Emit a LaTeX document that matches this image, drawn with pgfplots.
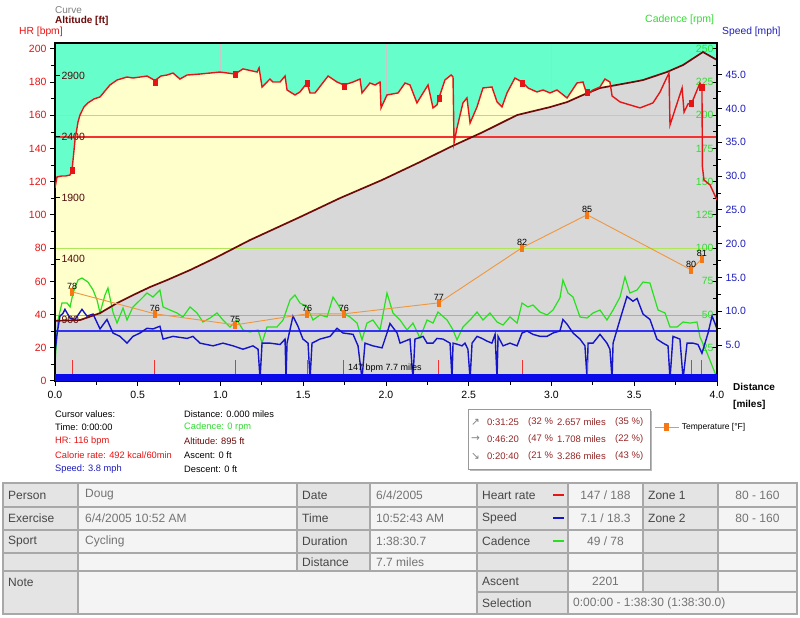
\documentclass[border=0pt]{standalone}
\usepackage{pgfplots}
\pgfplotsset{compat=1.18}
\usepackage{pgfplotstable}
\usepackage{fontspec}
\setmainfont{Liberation Sans}
\newfontfamily\dejavu{DejaVu Sans}
\newcommand{\fs}[1]{\fontsize{#1}{#1}\selectfont}

\definecolor{turq}{RGB}{102,255,204}
\definecolor{ylw}{RGB}{255,255,204}
\definecolor{grayfill}{RGB}{216,216,216}
\definecolor{gridc}{RGB}{200,200,200}
\definecolor{hrred}{RGB}{230,20,20}
\definecolor{avgred}{RGB}{245,50,50}
\definecolor{lapred}{RGB}{240,50,50}
\definecolor{altred}{RGB}{110,10,10}
\definecolor{altlab}{RGB}{80,10,10}
\definecolor{cadgreen}{RGB}{40,225,30}
\definecolor{cadtxt}{RGB}{50,220,50}
\definecolor{cadavg}{RGB}{100,225,80}
\definecolor{zonec}{RGB}{175,230,90}
\definecolor{spdblue}{RGB}{20,20,200}
\definecolor{avgblue}{RGB}{50,50,245}
\definecolor{barblue}{RGB}{10,10,235}
\definecolor{spdtxt}{RGB}{30,30,190}
\definecolor{tempor}{RGB}{240,150,60}
\definecolor{tempmk}{RGB}{245,120,20}
\definecolor{boxtxt}{RGB}{150,40,40}
\definecolor{cellL}{RGB}{228,228,228}
\definecolor{cellV}{RGB}{244,244,244}
\definecolor{cellB}{RGB}{168,168,168}
\definecolor{txtL}{RGB}{70,70,70}
\definecolor{txtV}{RGB}{115,115,115}

\pgfplotsset{
  /pgf/number format/assume math mode=true,
  lay/.style={scale only axis, width=662pt, height=338pt, at={(55pt,237pt)},
    anchor=south west, xmin=0, xmax=4, xtick=\empty, ytick=\empty,
    tick label style={font=\fs{10.5}},
    major tick style={black, line width=1pt}, minor tick style={black, line width=0.8pt},
    major tick length=5pt, minor tick length=4pt},
  hid/.style={axis line style={draw=none}},
  hrs/.style={ymin=0, ymax=203.6},
  alts/.style={ymin=403, ymax=3166},
  cads/.style={ymin=0, ymax=254.4},
  spds/.style={ymin=-0.3, ymax=49.7},
  tmps/.style={ymin=69.9, ymax=100.6},
}

\pgfplotstableread{
d hr
0 116.3
0.012 122.9
0.042 123.5
0.066 123.5
0.091 124.1
0.103 127.1
0.121 145.2
0.139 156.0
0.151 160.2
0.175 165.1
0.199 167.5
0.236 169.9
0.272 171.1
0.302 174.7
0.332 178.3
0.375 181.3
0.435 183.1
0.471 182.5
0.514 183.1
0.556 183.7
0.604 181.0
0.640 183.7
0.677 184.3
0.713 185.5
0.755 181.9
0.798 184.3
0.876 184.9
0.937 185.5
0.997 186.1
1.088 184.9
1.136 188.0
1.221 186.1
1.233 188.6
1.251 177.1
1.299 181.9
1.317 180.1
1.360 180.1
1.390 183.7
1.402 175.3
1.450 172.3
1.480 174.1
1.523 179.5
1.541 173.5
1.571 173.5
1.650 183.7
1.704 180.1
1.746 178.3
1.801 180.1
1.843 181.9
1.855 173.5
1.903 179.5
1.934 178.3
1.964 180.1
1.970 164.5
2.006 172.3
2.073 173.5
2.115 179.5
2.145 178.3
2.187 167.5
2.224 173.5
2.254 178.3
2.284 164.5
2.308 166.3
2.320 170.5
2.356 181.3
2.393 184.3
2.405 183.1
2.411 143.4
2.429 152.4
2.465 167.5
2.489 170.5
2.508 155.4
2.550 165.1
2.586 176.5
2.640 177.1
2.671 168.1
2.701 165.1
2.731 173.5
2.779 182.5
2.822 180.1
2.858 176.5
2.912 174.1
2.949 175.3
2.991 173.5
3.033 175.3
3.094 170.5
3.154 179.5
3.190 180.1
3.215 172.3
3.251 175.3
3.293 177.1
3.323 181.9
3.353 180.1
3.366 171.7
3.414 168.1
3.474 166.3
3.535 164.5
3.613 167.5
3.656 174.1
3.698 183.1
3.710 185.5
3.716 154.2
3.789 176.5
3.801 162.0
3.825 166.9
3.843 167.5
3.855 169.3
3.897 179.5
3.909 177.1
3.912 128.9
3.921 121.1
3.958 118.1
4.0 109.0
}\hrdata

\pgfplotstableread{
d alt
0 895
0.151 901
0.272 958
0.375 1040
0.471 1105
0.574 1171
0.677 1228
0.816 1310
0.967 1408
1.178 1555
1.480 1743
1.722 1898
1.976 2046
2.205 2193
2.387 2315
2.586 2438
2.792 2577
2.991 2642
3.094 2683
3.190 2741
3.293 2798
3.492 2847
3.553 2863
3.698 2929
3.795 2986
3.915 3092
4.0 3027
}\altdata

\pgfplotstableread{
d cad
0 13.5
0.018 45.9
0.042 58.7
0.073 58.7
0.091 55.7
0.109 66.2
0.139 76.0
0.163 77.5
0.199 74.5
0.230 68.5
0.254 60.9
0.272 51.2
0.302 64.7
0.320 70.0
0.350 51.9
0.375 43.6
0.411 54.9
0.435 45.9
0.471 55.7
0.514 60.9
0.556 66.2
0.592 63.2
0.634 68.5
0.653 55.7
0.695 53.4
0.737 51.2
0.773 48.2
0.816 55.7
0.858 51.2
0.894 44.4
0.937 47.4
0.979 51.2
1.015 45.9
1.057 40.6
1.100 45.9
1.136 38.4
1.178 36.9
1.227 38.4
1.251 28.6
1.281 40.6
1.341 40.6
1.378 45.9
1.420 60.9
1.450 64.7
1.480 58.7
1.523 55.7
1.559 45.9
1.601 49.7
1.644 48.2
1.680 63.2
1.704 58.7
1.740 51.2
1.782 48.2
1.825 43.6
1.855 30.9
1.885 43.6
1.921 45.9
1.964 38.4
2.006 66.2
2.042 51.2
2.085 45.9
2.127 38.4
2.163 43.6
2.205 32.4
2.248 45.9
2.284 43.6
2.314 51.9
2.369 45.9
2.405 38.4
2.429 30.9
2.465 40.6
2.508 45.9
2.550 51.9
2.586 45.9
2.628 51.2
2.671 44.4
2.707 42.1
2.749 48.2
2.792 43.6
2.822 58.7
2.858 55.7
2.888 57.2
2.931 51.9
2.973 49.7
3.009 53.4
3.051 62.5
3.069 76.0
3.100 66.2
3.130 63.2
3.172 48.2
3.215 47.4
3.251 51.2
3.293 53.4
3.335 45.9
3.372 53.4
3.414 63.2
3.444 78.3
3.474 66.2
3.517 68.5
3.553 74.5
3.595 73.7
3.613 66.2
3.644 53.4
3.686 51.2
3.716 40.6
3.758 40.6
3.795 44.4
3.837 43.6
3.879 44.4
3.897 33.1
3.940 21.1
3.988 6.0
4.0 3.8
}\caddata

\pgfplotstableread{
d spd
0 3.8
0.012 6.6
0.030 9.3
0.048 9.7
0.060 10.3
0.091 9.0
0.121 8.8
0.163 10.3
0.193 9.3
0.230 9.6
0.272 7.4
0.314 8.8
0.350 6.8
0.393 6.3
0.435 5.3
0.471 6.3
0.514 6.8
0.556 7.5
0.592 7.4
0.634 7.8
0.653 5.9
0.713 6.3
0.798 6.0
0.834 6.3
0.876 5.3
0.955 4.9
1.015 5.3
1.076 4.9
1.136 4.4
1.196 4.9
1.227 4.4
1.239 0
1.251 5.3
1.299 5.3
1.360 5.1
1.390 5.9
1.396 0
1.402 5.3
1.438 9.3
1.468 7.8
1.498 5.9
1.529 5.3
1.541 0
1.553 5.3
1.601 5.9
1.662 6.3
1.704 7.5
1.740 6.8
1.801 6.6
1.831 4.9
1.855 0
1.873 5.3
1.921 4.9
1.976 4.6
2.006 6.8
2.024 8.2
2.067 6.8
2.085 5.3
2.145 5.9
2.163 0
2.175 5.9
2.224 6.3
2.248 5.3
2.284 5.3
2.308 6.0
2.344 5.9
2.387 5.3
2.399 0
2.405 5.3
2.435 5.1
2.459 4.9
2.477 5.3
2.495 4.4
2.508 0
2.520 5.3
2.550 6.3
2.580 6.0
2.610 5.6
2.640 5.3
2.659 6.6
2.671 0
2.677 6.3
2.707 4.9
2.749 5.3
2.792 4.9
2.822 6.8
2.852 7.1
2.888 6.6
2.931 6.3
2.973 6.3
3.009 6.8
3.051 7.1
3.069 8.8
3.094 8.1
3.130 6.8
3.172 5.9
3.202 4.9
3.215 0
3.221 5.3
3.251 5.3
3.293 6.6
3.335 5.3
3.353 4.4
3.366 0
3.372 5.3
3.414 8.8
3.456 12.2
3.492 11.5
3.517 11.9
3.553 9.6
3.595 8.8
3.637 5.9
3.674 5.3
3.704 4.9
3.716 0
3.734 6.3
3.776 5.9
3.795 0
3.819 5.3
3.855 5.3
3.885 5.1
3.909 3.8
3.946 6.8
3.970 9.3
3.988 8.2
4.0 7.4
}\spddata

\pgfplotstableread{
d temp
0.103 78
0.604 76
1.088 75
1.523 76
1.746 76
2.320 77
2.822 82
3.215 85
3.843 80
3.909 81
}\tmpdata

\pgfplotstableread{
d hr tick
0.103 127.1 12.7
0.604 180.1 12.7
1.088 184.9 12.7
1.523 179.5 12.7
1.746 177.7 12.7
2.320 170.5 12.7
2.822 179.5 12.7
3.215 174.0 12.7
3.843 167.5 12.7
3.909 177.1 12.7
}\lapdata

\begin{document}
\begin{tikzpicture}[x=1pt,y=1pt]
\path[use as bounding box, fill=white] (0,0) rectangle (800,618);

% --- background, grid, HR fill
\begin{axis}[lay, hid, hrs, axis background/.style={fill=turq}]
\addplot[draw=gridc, line width=0.8pt] coordinates {(1,0) (1,203.6)};
\addplot[draw=gridc, line width=0.8pt] coordinates {(2,0) (2,203.6)};
\addplot[draw=gridc, line width=0.8pt] coordinates {(3,0) (3,203.6)};
\addplot[draw=none, fill=ylw] table[x=d,y=hr] {\hrdata} \closedcycle;
\end{axis}

% --- altitude fill
\begin{axis}[lay, hid, alts]
\addplot[draw=none, fill=grayfill] table[x=d,y=alt] {\altdata} \closedcycle;
\end{axis}

% --- HR reference lines
\begin{axis}[lay, hid, hrs]
\addplot[color=zonec, line width=1.1pt] coordinates {(0,160) (4,160)};
\addplot[color=zonec, line width=1.1pt] coordinates {(0,80) (4,80)};
\addplot[color=avgred, line width=1.2pt] coordinates {(0,147) (4,147)};
\end{axis}

% --- cadence
\begin{axis}[lay, hid, cads, ytick={25,50,...,250}, ytick pos=right, tick align=inside,
  minor y tick num=1, yticklabel style={anchor=east, text=cadtxt}]
\addplot[color=cadavg, line width=1.1pt] coordinates {(0,49) (4,49)};
\addplot[color=cadgreen, line width=1.2pt] table[x=d,y=cad] {\caddata};
\end{axis}

% --- speed
\begin{axis}[lay, hid, spds, ytick={5,10,...,45}, ytick pos=right, tick align=outside,
  minor y tick num=1,
  yticklabel style={text=spdtxt, /pgf/number format/.cd, fixed, fixed zerofill, precision=1}]
\addplot[color=avgblue, line width=1.2pt] coordinates {(0,7.1) (4,7.1)};
\addplot[color=spdblue, line width=1.4pt] table[x=d,y=spd] {\spddata};
\end{axis}

% --- altitude line
\begin{axis}[lay, hid, alts, ytick={900,1400,1900,2400,2900}, ytick pos=left, tick align=inside,
  yticklabel style={anchor=west, text=altlab, xshift=3pt, /pgf/number format/1000 sep={}}]
\addplot[color=altred, line width=1.7pt] table[x=d,y=alt] {\altdata};
\end{axis}

% --- temperature
\begin{axis}[lay, hid, tmps,
  legend style={at={(axis description cs:0.906,-0.136)}, anchor=west, draw=none, fill=none,
    font=\fs{8.5}, inner sep=0pt},
  legend image code/.code={\draw[mark repeat=2,mark phase=2,#1] plot coordinates {(0pt,0pt) (11pt,0pt) (24pt,0pt)};}]
\addplot[color=tempor, line width=0.9pt, mark=square*, mark size=3pt,
  mark options={draw=tempmk, fill=tempmk, xscale=0.6, yscale=1.15},
  point meta=y, nodes near coords,
  every node near coord/.append style={font=\fs{9}, text=black, inner sep=1.5pt}]
  table[x=d,y=temp] {\tmpdata};
\legend{Temperature [°F]}
\end{axis}

% --- HR line, frame, ticks
\begin{axis}[lay, hrs, axis line style={draw=black, line width=1.5pt},
  xtick={0,0.5,...,4}, xtick pos=bottom, minor x tick num=1,
  ytick={0,20,...,200}, ytick pos=left, minor y tick num=1, tick align=outside,
  yticklabel style={text=hrred},
  xticklabel style={yshift=-2pt, /pgf/number format/.cd, fixed, fixed zerofill, precision=1}]
\addplot[ycomb, color=lapred, line width=1pt] table[x=d,y=tick] {\lapdata};
\addplot[draw=none, fill=barblue] coordinates {(0,0) (4,0) (4,4.2) (0,4.2)} \closedcycle;
\addplot[color=hrred, line width=1.4pt] table[x=d,y=hr] {\hrdata};
\addplot[only marks, mark=square*, mark size=3pt, mark options={draw=hrred, fill=hrred, xscale=0.75}]
  table[x=d,y=hr] {\lapdata};
\node[anchor=west, inner sep=0pt, font=\fs{9}] at (axis cs:1.77,7.8) {147 bpm 7.7 miles};
\end{axis}

% --- axis titles
\begin{scope}[every node/.style={inner sep=0pt, anchor=west}]
\node[text=gray, font=\fs{10}] at (55,608) {Curve};
\node[text=altred, font=\fs{10}\bfseries] at (55,597) {Altitude [ft]};
\node[text=hrred, font=\fs{10.3}] at (19,586) {HR [bpm]};
\node[text=cadtxt, font=\fs{10.5}] at (645,598) {Cadence [rpm]};
\node[text=spdtxt, font=\fs{10.3}] at (722,586) {Speed [mph]};
\node[font=\fs{10}\bfseries] at (733,231) {Distance};
\node[font=\fs{10}\bfseries] at (733,213) {[miles]};

% cursor values
\node[font=\fs{9.3}] at (55,204) {Cursor values:};
\node[font=\fs{9.3}] at (55,191) {Time: 0:00:00};
\node[font=\fs{9.3}, text=hrred] at (55,177) {HR: 116 bpm};
\node[font=\fs{9.3}, text=hrred] at (55,163) {Calorie rate: 492 kcal/60min};
\node[font=\fs{9.3}, text=spdtxt] at (55,149) {Speed: 3.8 mph};
\node[font=\fs{9.3}] at (184,204) {Distance: 0.000 miles};
\node[font=\fs{9.3}, text=cadtxt] at (184,191) {Cadence: 0 rpm};
\node[font=\fs{9.3}, text=altred] at (184,177) {Altitude: 895 ft};
\node[font=\fs{9.3}] at (184,163) {Ascent: 0 ft};
\node[font=\fs{9.3}] at (184,149) {Descent: 0 ft};
\end{scope}

% --- summary box
\fill[gray!55] (470,147) rectangle (652,207);
\filldraw[fill=white, draw=gray!80, line width=0.6pt] (468,149) rectangle (650,209);
\begin{scope}[every node/.style={inner sep=0pt, anchor=west, font=\fs{9.5}, text=boxtxt}]
\node[text=gray, font=\dejavu\fs{10.5}] at (471,196) {↗};
\node[text=gray, font=\dejavu\fs{10.5}] at (471,179) {→};
\node[text=gray, font=\dejavu\fs{10.5}] at (471,162) {↘};
\node at (487,196) {0:31:25}; \node at (528,196) {(32 \%}; \node at (557,196) {2.657 miles}; \node at (615,196) {(35 \%)};
\node at (487,179) {0:46:20}; \node at (528,179) {(47 \%}; \node at (557,179) {1.708 miles}; \node at (615,179) {(22 \%)};
\node at (487,162) {0:20:40}; \node at (528,162) {(21 \%}; \node at (557,162) {3.286 miles}; \node at (615,162) {(43 \%)};
\end{scope}

% --- table
\fill[cellV] (3,4) rectangle (797,135);
\fill[cellL] (3,4) rectangle (78,135);
\fill[cellL] (297,47) rectangle (370,135);
\fill[cellL] (477,4) rectangle (568,135);
\fill[cellL] (643,26) rectangle (718,135);
\begin{scope}[cellB, line width=1.5pt]
\draw (3,4) rectangle (797,135);
\draw (3,111) -- (797,111);
\draw (3,88) -- (797,88);
\draw (3,65) -- (797,65);
\draw (3,47) -- (797,47);
\draw (477,26) -- (797,26);
\draw (78,4) -- (78,135);
\draw (297,47) -- (297,135);
\draw (370,47) -- (370,135);
\draw (477,4) -- (477,135);
\draw (568,4) -- (568,135);
\draw (643,26) -- (643,135);
\draw (718,26) -- (718,135);
\end{scope}
\draw[hrred, line width=2pt] (553,123) -- (564,123);
\draw[spdblue, line width=2pt] (553,99.5) -- (564,99.5);
\draw[cadgreen, line width=2pt] (553,76.5) -- (564,76.5);
\begin{scope}[every node/.style={inner sep=0pt, font=\fs{12}}]
\node[anchor=west, text=txtL] at (8,123) {Person};
\node[anchor=west, text=txtL] at (8,99.5) {Exercise};
\node[anchor=west, text=txtL] at (8,76.5) {Sport};
\node[anchor=west, text=txtL] at (8,36) {Note};
\node[anchor=west, text=txtV] at (85,123) {Doug};
\node[anchor=west, text=txtV] at (85,99.5) {6/4/2005 10:52 AM};
\node[anchor=west, text=txtV] at (85,76.5) {Cycling};
\node[anchor=west, text=txtL] at (302,123) {Date};
\node[anchor=west, text=txtL] at (302,99.5) {Time};
\node[anchor=west, text=txtL] at (302,76.5) {Duration};
\node[anchor=west, text=txtL] at (302,56) {Distance};
\node[anchor=west, text=txtV] at (376,123) {6/4/2005};
\node[anchor=west, text=txtV] at (376,99.5) {10:52:43 AM};
\node[anchor=west, text=txtV] at (376,76.5) {1:38:30.7};
\node[anchor=west, text=txtV] at (376,56) {7.7 miles};
\node[anchor=west, text=txtL] at (482,123) {Heart rate};
\node[anchor=west, text=txtL] at (482,99.5) {Speed};
\node[anchor=west, text=txtL] at (482,76.5) {Cadence};
\node[anchor=west, text=txtL] at (482,36.5) {Ascent};
\node[anchor=west, text=txtL] at (482,15) {Selection};
\node[text=txtV] at (605.5,123) {147 / 188};
\node[text=txtV] at (605.5,99.5) {7.1 / 18.3};
\node[text=txtV] at (605.5,76.5) {49 / 78};
\node[text=txtV] at (605.5,36.5) {2201};
\node[anchor=west, text=txtV] at (573,15) {0:00:00 - 1:38:30 (1:38:30.0)};
\node[anchor=west, text=txtL] at (648,123) {Zone 1};
\node[anchor=west, text=txtL] at (648,99.5) {Zone 2};
\node[text=txtV] at (757.5,123) {80 - 160};
\node[text=txtV] at (757.5,99.5) {80 - 160};
\end{scope}
\end{tikzpicture}
\end{document}
